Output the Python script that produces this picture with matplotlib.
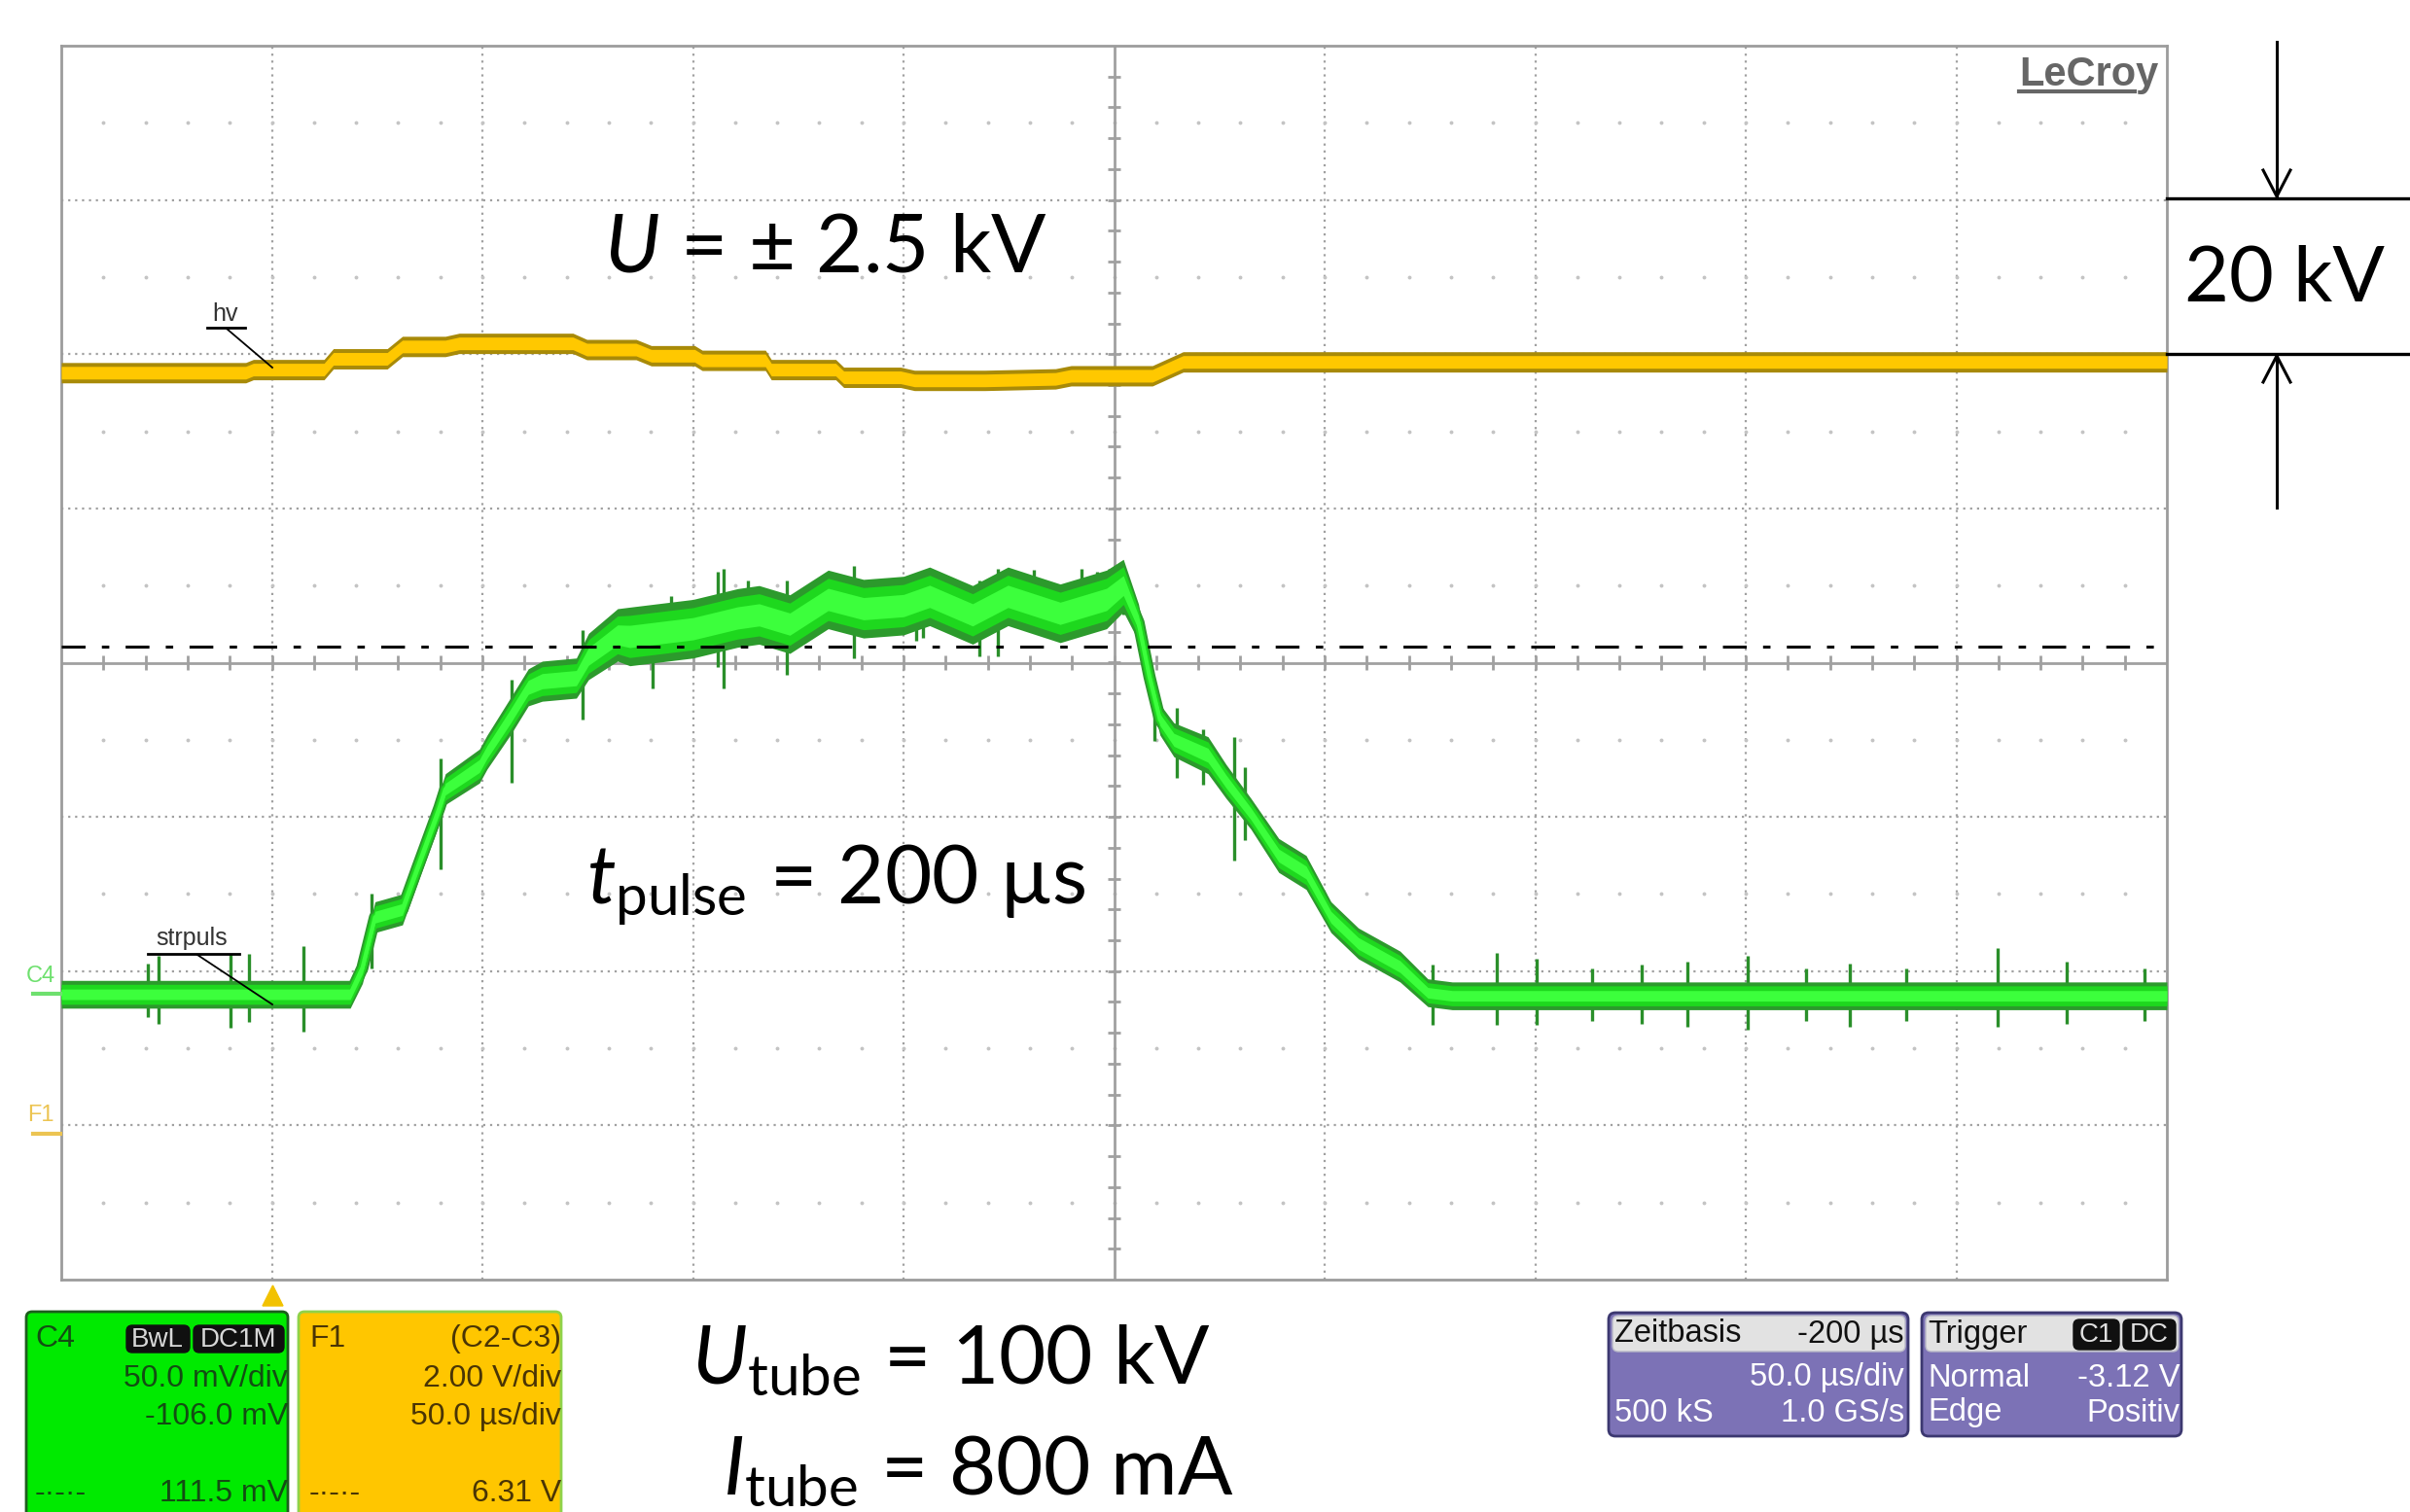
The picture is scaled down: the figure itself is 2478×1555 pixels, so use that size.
import matplotlib
matplotlib.use("Agg")
import matplotlib.pyplot as plt
from matplotlib.patches import FancyBboxPatch, Polygon
import numpy as np

plt.rcParams['font.family'] = ['Liberation Sans', 'DejaVu Sans']
plt.rcParams['mathtext.fontset'] = 'custom'
plt.rcParams['mathtext.it'] = 'Lato:italic'
plt.rcParams['mathtext.rm'] = 'Lato'

# time in µs relative to screen centre (50 µs/div), amplitude in divisions
hv_t = [-250.0, -206.2, -204.4, -187.6, -185.4, -172.6, -169.0, -158.8, -155.5, -128.5,
        -125.2, -113.5, -109.9, -99.6, -97.8, -82.8, -81.4, -66.1, -64.2, -50.7,
        -47.4, -30.7, -13.9, -10.2, 9.1, 16.4, 250.0]
hv_y = [1.88, 1.88, 1.90, 1.90, 1.97, 1.97, 2.05, 2.05, 2.07, 2.07,
        2.03, 2.03, 1.99, 1.99, 1.96, 1.96, 1.90, 1.90, 1.85, 1.85,
        1.83, 1.83, 1.84, 1.86, 1.86, 1.95, 1.95]

c4_t = [-250.0, -181.4, -178.5, -175.5, -169.0, -165.7, -160.2, -158.8, -150.7, -148.9,
        -143.4, -139.1, -135.8, -127.7, -124.8, -117.9, -115.0, -100.0, -89.4, -84.3,
        -77.0, -67.9, -59.5, -50.0, -43.8, -33.6, -25.2, -12.8, -1.8, 2.2,
        5.8, 8.4, 10.9, 14.2, 22.3, 26.6, 32.5, 39.1, 45.6, 51.5,
        58.0, 67.9, 74.5, 80.3, 250.0]
c4_y = [-2.15, -2.15, -1.98, -1.65, -1.60, -1.35, -0.94, -0.82, -0.67, -0.58,
        -0.35, -0.16, -0.12, -0.10, 0.04, 0.18, 0.17, 0.22, 0.29, 0.31,
        0.25, 0.41, 0.35, 0.37, 0.43, 0.31, 0.43, 0.32, 0.41, 0.50,
        0.26, -0.09, -0.37, -0.50, -0.60, -0.77, -0.98, -1.25, -1.36, -1.65,
        -1.82, -1.97, -2.14, -2.16, -2.16]
# half width of the noise band
c4_hw = [0.09, 0.09, 0.10, 0.10, 0.10, 0.10, 0.10, 0.10, 0.11, 0.11,
         0.12, 0.12, 0.13, 0.13, 0.15, 0.17, 0.19, 0.19, 0.19, 0.19,
         0.19, 0.19, 0.19, 0.19, 0.19, 0.19, 0.19, 0.19, 0.19, 0.17,
         0.12, 0.10, 0.10, 0.11, 0.12, 0.11, 0.10, 0.11, 0.11, 0.10,
         0.10, 0.10, 0.09, 0.09, 0.09]

# noise spikes on the C4 trace
spk_t = [-229.4, -227.0, -209.9, -205.5, -192.4,
         -176.3, -159.9, -143.1, -126.3,
         -109.6, -105.1, -94.2, -92.7, -86.9, -77.7, -66.8, -61.7, -51.5, -47.1,
         -45.3, -37.6, -32.1, -27.7, -19.0, -7.7, -4.0, 2.2,
         9.5, 15.0, 21.2, 28.5, 31.0,
         75.6, 90.9, 100.4, 113.5, 125.2, 136.1, 150.4, 164.3, 174.8, 188.0,
         209.9, 226.3, 244.6]
spk_top = [-1.95, -1.90, -1.89, -1.89, -1.84,
           -1.50, -0.62, -0.11, 0.21,
           0.37, 0.43, 0.59, 0.61, 0.53, 0.53, 0.52, 0.63, 0.52, 0.54,
           0.56, 0.52, 0.53, 0.61, 0.60, 0.61, 0.59, 0.61,
           -0.13, -0.29, -0.43, -0.48, -0.68,
           -1.96, -1.88, -1.92, -1.98, -1.96, -1.94, -1.90, -1.98, -1.95, -1.98,
           -1.85, -1.94, -1.98]
spk_bot = [-2.30, -2.34, -2.37, -2.33, -2.39,
           -1.98, -1.34, -0.78, -0.37,
           -0.17, 0.12, -0.03, -0.17, 0.16, -0.08, 0.26, 0.03, 0.21, 0.14,
           0.16, 0.21, 0.04, 0.04, 0.26, 0.21, 0.21, 0.31,
           -0.51, -0.75, -0.79, -1.28, -1.15,
           -2.35, -2.35, -2.35, -2.32, -2.34, -2.36, -2.38, -2.32, -2.36, -2.32,
           -2.36, -2.34, -2.32]

cursor_y = 0.105
hv_hw = 0.066

W, H = 2478, 1555
fig = plt.figure(figsize=(W / 100, H / 100), dpi=100)
fig.patch.set_facecolor('white')

x0, x1, y0, y1 = 63, 2228, 47, 1316
ax = fig.add_axes([x0 / W, 1 - y1 / H, (x1 - x0) / W, (y1 - y0) / H])
ax.set_xlim(-250, 250)
ax.set_ylim(-4, 4)
ax.set_xticks([])
ax.set_yticks([])
for s in ax.spines.values():
    s.set_color('#9c9c9c')
    s.set_linewidth(2)

# graticule
for gx in [-200, -150, -100, -50, 50, 100, 150, 200]:
    ax.axvline(gx, color='#a0a0a0', lw=1.6, ls=(0, (1, 2.2)), zorder=1)
for gy in [-3, -2, -1, 1, 2, 3]:
    ax.axhline(gy, color='#a0a0a0', lw=1.6, ls=(0, (1, 2.2)), zorder=1)
dots_x = np.arange(-240, 250, 10)
for hy in [-3.5, -2.5, -1.5, -0.5, 0.5, 1.5, 2.5, 3.5]:
    ax.plot(dots_x, np.full(dots_x.shape, hy), ls='none', marker='o', ms=1.8,
            color='#c4c4c4', zorder=1)
ax.axhline(0, color='#a0a0a0', lw=2, zorder=1)
ax.axvline(0, color='#a0a0a0', lw=2, zorder=1)
ax.vlines(np.arange(-240, 250, 10), -0.045, 0.045, color='#a0a0a0', lw=2, zorder=1)
ax.hlines(np.arange(-3.8, 4, 0.2), -1.6, 1.6, color='#a0a0a0', lw=2, zorder=1)

# hv trace (yellow)
hv_t = np.array(hv_t)
hv_y = np.array(hv_y)
ax.fill_between(hv_t, hv_y - hv_hw, hv_y + hv_hw, color='#a88a08', lw=0, zorder=3)
ax.fill_between(hv_t, hv_y - hv_hw * 0.62, hv_y + hv_hw * 0.62, color='#ffc800', lw=0, zorder=3)

# strpuls trace (green)
c4_t = np.array(c4_t)
c4_y = np.array(c4_y)
c4_hw = np.array(c4_hw)
ax.vlines(spk_t, spk_bot, spk_top, color='#2a8f2a', lw=2.4, zorder=3)
ax.plot(c4_t, c4_y, color='#2c9a2c', lw=9, solid_joinstyle='round', zorder=4)
ax.fill_between(c4_t, c4_y - c4_hw, c4_y + c4_hw, color='#2c9a2c', lw=0, zorder=4)
ax.plot(c4_t, c4_y, color='#1ed81e', lw=6, solid_joinstyle='round', zorder=4)
ax.fill_between(c4_t, c4_y - c4_hw * 0.72, c4_y + c4_hw * 0.72, color='#1ed81e', lw=0, zorder=4)
ax.plot(c4_t, c4_y, color='#3cff3c', lw=3, solid_joinstyle='round', zorder=4)
ax.fill_between(c4_t, c4_y - c4_hw * 0.38, c4_y + c4_hw * 0.38, color='#3cff3c', lw=0, zorder=4)

# cursor line
ax.axhline(cursor_y, color='black', lw=2.2, ls=(0, (8, 5.5, 2.5, 5.5)), zorder=5)

# overlay in pixel coordinates for labels and panels
ov = fig.add_axes([0, 0, 1, 1])
ov.set_xlim(0, W)
ov.set_ylim(H, 0)
ov.axis('off')

ov.text(2076, 88, 'LeCroy', fontsize=30, fontweight='bold', color='#666666', ha='left', va='baseline')
ov.plot([2076, 2195], [94, 94], color='#666666', lw=3)

# trace labels
ov.text(232, 330, 'hv', fontsize=18, color='#333333', ha='center', va='baseline')
ov.plot([213, 252], [337, 337], color='black', lw=2)
ov.plot([233, 280], [338, 378], color='black', lw=1.3)
ov.text(197, 972, 'strpuls', fontsize=18, color='#333333', ha='center', va='baseline')
ov.plot([152, 246], [981, 981], color='black', lw=2)
ov.plot([203, 280], [982, 1033], color='black', lw=1.3)

ov.text(42, 1004, 'C4', fontsize=17, color='#6ee06e', ha='center', va='center')
ov.plot([34, 62], [1022, 1022], color='#6ee06e', lw=3)
ov.text(42, 1147, 'F1', fontsize=17, color='#ecc452', ha='center', va='center')
ov.plot([34, 62], [1166, 1166], color='#ecc452', lw=3)

# trigger marker
ov.add_patch(Polygon([[270, 1343], [291, 1343], [280.5, 1322]], closed=True, color='#f2c200'))

# big annotations
big = dict(fontsize=60, color='black', va='baseline', ha='left', family='Lato')
ov.text(621, 280, r'$U$ = ± 2.5 kV', **big)
ov.text(603, 929, r'$t_{\mathrm{pulse}}$ = 200 µs', **big)
ov.text(711, 1422, r'$U_{\mathrm{tube}}$ = 100 kV', **big)
ov.text(743, 1536, r'$I_{\mathrm{tube}}$ = 800 mA', **big)
ov.text(2246, 310, '20 kV', fontsize=57, color='black', va='baseline', ha='left', family='Lato')

# scale arrows on the right
ov.plot([2228, W], [204, 204], color='black', lw=2.4)
ov.plot([2228, W], [364, 364], color='black', lw=2.4)
ov.plot([2341, 2341], [43, 202], color='black', lw=2.2)
ov.plot([2327, 2341, 2355], [175, 202, 175], color='black', lw=2.2)
ov.plot([2341, 2341], [366, 522], color='black', lw=2.2)
ov.plot([2327, 2341, 2355], [393, 366, 393], color='black', lw=2.2)


def box(xa, ya, xb, yb, fc, ec, r=8, lw=2):
    ov.add_patch(FancyBboxPatch((xa, ya), xb - xa, yb - ya,
                                boxstyle='round,pad=0,rounding_size=%d' % r,
                                fc=fc, ec=ec, lw=lw))


# channel panels
box(27, 1349, 296, 1575, '#00ea00', '#1d5e1d', r=6)
gtxt = dict(fontsize=23, color='#134d13', va='center')
ov.text(36, 1377, 'C4', ha='left', **gtxt)
box(130, 1363, 195, 1391, '#101010', '#101010', r=6, lw=1)
box(199, 1363, 292, 1391, '#101010', '#101010', r=6, lw=1)
ov.text(162, 1378, 'BwL', fontsize=20, color='#d8d8d8', ha='center', va='center')
ov.text(245, 1378, 'DC1M', fontsize=20, color='#d8d8d8', ha='center', va='center')
ov.text(296, 1418, '50.0 mV/div', ha='right', **gtxt)
ov.text(296, 1457, '-106.0 mV', ha='right', **gtxt)
ov.text(36, 1536, '-·-·-', ha='left', **gtxt)
ov.text(296, 1536, '111.5 mV', ha='right', **gtxt)

box(307, 1349, 577, 1575, '#ffc600', '#8fd24a', r=6)
ftxt = dict(fontsize=23, color='#4a3505', va='center')
ov.text(318, 1377, 'F1', ha='left', **ftxt)
ov.text(577, 1377, '(C2-C3)', ha='right', **ftxt)
ov.text(577, 1418, '2.00 V/div', ha='right', **ftxt)
ov.text(577, 1457, '50.0 µs/div', ha='right', **ftxt)
ov.text(318, 1536, '-·-·-', ha='left', **ftxt)
ov.text(577, 1536, '6.31 V', ha='right', **ftxt)

# timebase / trigger panels
purple = '#7c72b6'
box(1654, 1350, 1962, 1477, purple, '#3c3870', r=7)
box(1658, 1353, 1959, 1390, '#e2e2e2', '#b8b8c8', r=6, lw=1)
ptxt = dict(fontsize=23.5, va='center')
ov.text(1660, 1372, 'Zeitbasis', ha='left', color='#111111', **ptxt)
ov.text(1958, 1372, '-200 µs', ha='right', color='#111111', **ptxt)
ov.text(1958, 1417, '50.0 µs/div', ha='right', color='white', **ptxt)
ov.text(1660, 1453, '500 kS', ha='left', color='white', **ptxt)
ov.text(1958, 1453, '1.0 GS/s', ha='right', color='white', **ptxt)

box(1976, 1350, 2243, 1477, purple, '#3c3870', r=7)
box(1980, 1353, 2240, 1390, '#e2e2e2', '#b8b8c8', r=6, lw=1)
ov.text(1982, 1372, 'Trigger', ha='left', color='#111111', **ptxt)
box(2132, 1357, 2179, 1388, '#101010', '#101010', r=6, lw=1)
box(2183, 1357, 2237, 1388, '#101010', '#101010', r=6, lw=1)
ov.text(2155, 1373, 'C1', fontsize=20, color='#e0e0e0', ha='center', va='center')
ov.text(2210, 1373, 'DC', fontsize=20, color='#e0e0e0', ha='center', va='center')
ov.text(1982, 1417, 'Normal', ha='left', color='white', **ptxt)
ov.text(2241, 1417, '-3.12 V', ha='right', color='white', **ptxt)
ov.text(1982, 1453, 'Edge', ha='left', color='white', **ptxt)
ov.text(2241, 1453, 'Positiv', ha='right', color='white', **ptxt)

fig.savefig('out.png', dpi=100)
